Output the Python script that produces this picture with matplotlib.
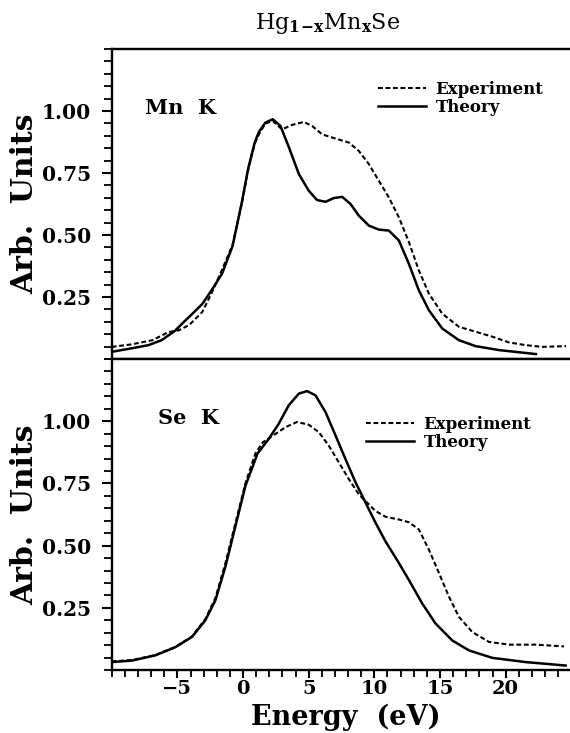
import matplotlib
matplotlib.use("Agg")
import matplotlib.pyplot as plt
import numpy as np

# Mn K edge (top panel)
mn_theory_e = [-10.0, -8.5, -7.2, -6.2, -5.2, -4.5, -4.1, -3.1, -2.4, -1.6, -0.8, -0.1, 0.4, 0.9,
               1.2, 1.7, 2.26, 2.85, 3.5, 4.25, 5.0, 5.64, 6.28, 6.91, 7.55, 8.19, 8.82, 9.58,
               10.34, 11.1, 11.87, 12.63, 13.39, 14.15, 15.17, 16.44, 17.71, 19.49, 22.3]
mn_theory_y = [0.029, 0.043, 0.056, 0.076, 0.113, 0.150, 0.170, 0.222, 0.277, 0.344, 0.455, 0.63, 0.77, 0.875,
               0.915, 0.953, 0.967, 0.94, 0.853, 0.746, 0.679, 0.641, 0.634, 0.649, 0.654, 0.625, 0.578, 0.538,
               0.522, 0.518, 0.478, 0.384, 0.277, 0.197, 0.123, 0.076, 0.052, 0.036, 0.020]

mn_exp_e = [-10.0, -8.5, -6.9, -5.7, -4.9, -4.1, -3.1, -2.4, -1.6, -0.8, -0.1, 0.4, 0.9, 1.2, 1.7,
            2.26, 2.97, 3.73, 4.63, 5.26, 6.02, 7.04, 8.06, 8.82, 9.58, 10.34, 11.1, 11.87, 12.63,
            13.39, 14.15, 15.17, 16.44, 17.71, 19.0, 20.25, 21.52, 22.79, 24.6]
mn_exp_y = [0.049, 0.059, 0.076, 0.108, 0.116, 0.137, 0.19, 0.265, 0.36, 0.46, 0.625, 0.765, 0.87, 0.905, 0.95,
            0.96, 0.926, 0.944, 0.956, 0.94, 0.906, 0.889, 0.873, 0.839, 0.786, 0.719, 0.652, 0.571, 0.472,
            0.357, 0.264, 0.183, 0.13, 0.110, 0.090, 0.067, 0.056, 0.049, 0.052]

# Se K edge (bottom panel)
se_theory_e = [-10.0, -8.46, -6.68, -5.15, -3.89, -2.87, -2.1, -1.34, -0.58, 0.18, 1.1, 1.96, 2.72,
               3.48, 4.25, 4.88, 5.52, 6.28, 7.04, 7.8, 8.57, 9.33, 10.09, 10.85, 11.87, 12.63,
               13.64, 14.66, 15.93, 17.2, 18.98, 21.52, 24.57]
se_theory_y = [0.032, 0.038, 0.059, 0.092, 0.133, 0.20, 0.281, 0.416, 0.578, 0.74, 0.87, 0.929, 0.99,
               1.064, 1.111, 1.121, 1.104, 1.037, 0.943, 0.848, 0.754, 0.673, 0.592, 0.517, 0.43, 0.362,
               0.268, 0.187, 0.119, 0.079, 0.049, 0.032, 0.018]

se_exp_e = [-10.0, -8.46, -6.68, -5.15, -3.89, -2.87, -2.1, -1.34, -0.58, 0.18, 0.94, 1.5, 2.0, 2.47,
            3.23, 4.12, 5.0, 5.77, 6.53, 7.29, 8.06, 8.82, 9.33, 10.09, 10.85, 11.87, 12.63, 13.39,
            14.15, 14.92, 15.68, 16.44, 17.45, 18.73, 20.25, 22.29, 24.44]
se_exp_y = [0.035, 0.040, 0.060, 0.093, 0.135, 0.205, 0.29, 0.43, 0.59, 0.75, 0.87, 0.915, 0.932, 0.949,
            0.976, 0.997, 0.986, 0.956, 0.902, 0.835, 0.767, 0.706, 0.679, 0.639, 0.616, 0.605, 0.594, 0.565,
            0.484, 0.39, 0.295, 0.214, 0.153, 0.113, 0.102, 0.102, 0.095]

x_ticks = [-5, 0, 5, 10, 15, 20]
y_ticks = [0.25, 0.50, 0.75, 1.00]

plt.rcParams["font.family"] = "DejaVu Serif"
plt.rcParams["font.weight"] = "bold"
plt.rcParams["mathtext.fontset"] = "dejavuserif"

fig = plt.figure(figsize=(5.7, 7.33), dpi=100)
ax_top = fig.add_axes([0.196, 0.5102, 0.804, 0.4229])
ax_bot = fig.add_axes([0.196, 0.0859, 0.804, 0.4243])

panels = [
    (ax_top, mn_exp_e, mn_exp_y, mn_theory_e, mn_theory_y, "Mn  K", (0.073, 0.81), (0.581, 0.897)),
    (ax_bot, se_exp_e, se_exp_y, se_theory_e, se_theory_y, "Se  K", (0.101, 0.81), (0.555, 0.817)),
]

for ax, ex_e, ex_y, th_e, th_y, name, name_pos, leg_pos in panels:
    ax.plot(ex_e, ex_y, color="black", lw=1.5, dashes=(2.3, 1.3), label="Experiment")
    ax.plot(th_e, th_y, color="black", lw=1.8, label="Theory")
    ax.set_xlim(-10, 24.9)
    ax.set_ylim(0, 1.25)
    ax.spines["right"].set_visible(False)
    for s in ["left", "top", "bottom"]:
        ax.spines[s].set_linewidth(1.7)
    ax.set_yticks(y_ticks)
    ax.set_yticklabels([f"{v:.2f}" for v in y_ticks])
    ax.set_yticks(np.arange(0, 1.26, 0.05), minor=True)
    ax.tick_params(axis="y", which="major", direction="out", length=7, width=1.5, pad=8, labelsize=14.5)
    ax.tick_params(axis="y", which="minor", direction="out", length=6, width=1.3)
    ax.set_ylabel("Arb.  Units", fontsize=21.5, fontweight="bold")
    ax.yaxis.set_label_coords(-0.158, 0.5)
    ax.text(name_pos[0], name_pos[1], name, transform=ax.transAxes, fontsize=15,
            fontweight="bold", va="center", ha="left")
    ax.legend(loc="upper left", bbox_to_anchor=leg_pos, frameon=False,
              handlelength=2.9, handletextpad=0.55, labelspacing=0.05, borderpad=0,
              borderaxespad=0, prop={"weight": "bold", "size": 12})

ax_top.set_xticks([])
ax_top.tick_params(axis="x", which="both", bottom=False, labelbottom=False)

ax_bot.set_xticks(x_ticks)
ax_bot.set_xticks(np.arange(-10, 25, 1), minor=True)
ax_bot.tick_params(axis="x", which="major", direction="out", length=6, width=1.5, pad=1, labelsize=14)
ax_bot.tick_params(axis="x", which="minor", direction="out", length=5, width=1.3)
ax_bot.set_xlabel("Energy  (eV)", fontsize=19.5, fontweight="bold")
ax_bot.xaxis.set_label_coords(0.511, -0.107)

fig.text(0.575, 0.968, r"Hg$_{\mathbf{1\!-\!x}}$Mn$_{\mathbf{x}}$Se", fontsize=16, fontweight="normal",
         ha="center", va="center")

fig.savefig("out.png", dpi=100)
